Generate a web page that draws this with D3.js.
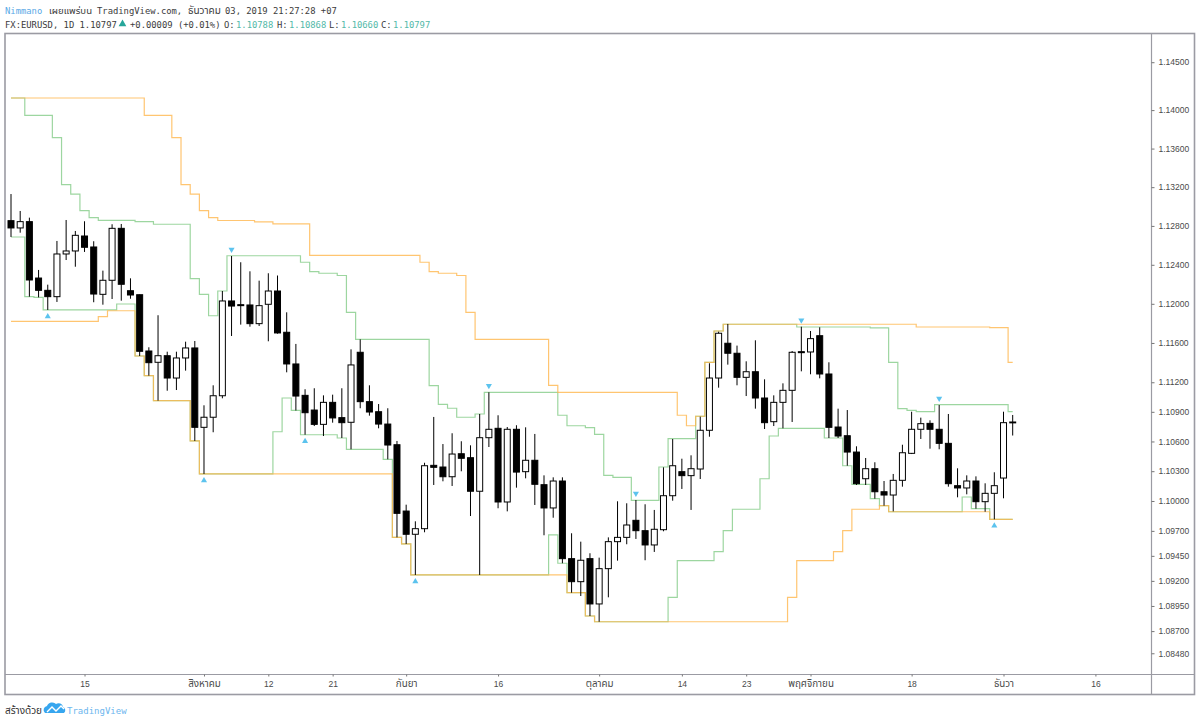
<!DOCTYPE html>
<html>
<head>
<meta charset="utf-8">
<script src="https://cdn.jsdelivr.net/npm/d3@7"></script>
<style>
  body { margin: 0; background: #fff; }
  svg { display: block; }
  .mono { font-family: "DejaVu Sans Mono", "Liberation Mono", monospace; font-size: 8.85px; fill: #3c3c3c; }
  .axis text { font-family: "Liberation Sans", sans-serif; font-size: 8.5px; fill: #4a4a4a; }
  .axis line { stroke: #777; }
</style>
</head>
<body>
<div id="chart"></div>
<script>
const opens = [
  1.12854, 1.12779, 1.12844, 1.12264, 1.12138, 1.12073, 1.12511, 1.12542, 1.12696, 1.12583,
  1.12097, 1.12241, 1.12775, 1.12134, 1.12093, 1.11518, 1.11403, 1.11470, 1.11243, 1.11447,
  1.11549, 1.10743, 1.10845, 1.11063, 1.12029, 1.11991, 1.11988, 1.11797, 1.11995, 1.12131,
  1.11709, 1.11386, 1.11067, 1.10918, 1.10773, 1.10996, 1.10841, 1.10794, 1.11505, 1.11003,
  1.10901, 1.10776, 1.10567, 1.09899, 1.09666, 1.09722, 1.10359, 1.10342, 1.10244, 1.10476,
  1.10436, 1.10098, 1.10638, 1.10733, 1.09990, 1.10723, 1.10295, 1.10410, 1.10164, 1.09930,
  1.10201, 1.09422, 1.09192, 1.09422, 1.08970, 1.09322, 1.09592, 1.09635, 1.09806, 1.09702,
  1.09559, 1.09712, 1.10053, 1.10295, 1.10255, 1.10322, 1.10713, 1.11243, 1.11597, 1.11495,
  1.11250, 1.11307, 1.11040, 1.10800, 1.10996, 1.11118, 1.11511, 1.11508, 1.11674, 1.11284,
  1.10746, 1.10658, 1.10493, 1.10224, 1.10325, 1.10093, 1.10060, 1.10208, 1.10480, 1.10723,
  1.10783, 1.10723, 1.10581, 1.10154, 1.10131, 1.10201, 1.09993, 1.10077, 1.10231, 1.10788
];
const highs = [
  1.13129, 1.12954, 1.12885, 1.12347, 1.12196, 1.12645, 1.12861, 1.12748, 1.12848, 1.12642,
  1.12340, 1.12817, 1.12820, 1.12261, 1.12095, 1.11556, 1.11883, 1.11511, 1.11511, 1.11613,
  1.11620, 1.10966, 1.11169, 1.12131, 1.12490, 1.12426, 1.12333, 1.12237, 1.12313, 1.12290,
  1.11913, 1.11590, 1.11129, 1.11139, 1.11067, 1.11074, 1.11139, 1.11535, 1.11637, 1.11169,
  1.10979, 1.10936, 1.10605, 1.09963, 1.09796, 1.10385, 1.10848, 1.10574, 1.10683, 1.10602,
  1.10561, 1.10878, 1.11098, 1.10865, 1.10746, 1.10764, 1.10743, 1.10676, 1.10258, 1.10238,
  1.10238, 1.09676, 1.09592, 1.09476, 1.09432, 1.09635, 1.09997, 1.09977, 1.10010, 1.09967,
  1.09910, 1.10339, 1.10625, 1.10426, 1.10460, 1.10851, 1.11393, 1.11715, 1.11794, 1.11573,
  1.11413, 1.11627, 1.11230, 1.11067, 1.11189, 1.11518, 1.11766, 1.11722, 1.11760, 1.11403,
  1.10932, 1.10918, 1.10551, 1.10433, 1.10390, 1.10201, 1.10272, 1.10567, 1.10901, 1.10841,
  1.10814, 1.10969, 1.10878, 1.10329, 1.10258, 1.10248, 1.10178, 1.10289, 1.10901, 1.10868
];
const lows = [
  1.12686, 1.12730, 1.12073, 1.12066, 1.11937, 1.12019, 1.12449, 1.12380, 1.12532, 1.12016,
  1.11991, 1.12049, 1.12032, 1.12052, 1.11467, 1.11267, 1.11013, 1.11114, 1.11121, 1.11318,
  1.10605, 1.10272, 1.10693, 1.11037, 1.11671, 1.11787, 1.11766, 1.11773, 1.11617, 1.11695,
  1.11301, 1.10913, 1.10668, 1.10756, 1.10655, 1.10790, 1.10635, 1.10521, 1.10936, 1.10861,
  1.10733, 1.10420, 1.09635, 1.09569, 1.09259, 1.09686, 1.10161, 1.10198, 1.10151, 1.10299,
  1.09849, 1.09259, 1.10544, 1.09927, 1.09896, 1.10134, 1.10228, 1.09960, 1.09656, 1.09832,
  1.09376, 1.09082, 1.09049, 1.08850, 1.08793, 1.09036, 1.09402, 1.09566, 1.09619, 1.09406,
  1.09489, 1.09696, 1.10003, 1.10121, 1.09910, 1.10221, 1.10648, 1.11145, 1.11379, 1.11169,
  1.11060, 1.10932, 1.10726, 1.10756, 1.10733, 1.10797, 1.11311, 1.11281, 1.11240, 1.10635,
  1.10635, 1.10355, 1.10161, 1.10161, 1.10023, 1.09953, 1.09896, 1.10144, 1.10473, 1.10625,
  1.10527, 1.10521, 1.10144, 1.10037, 1.10067, 1.09923, 1.09892, 1.09816, 1.10027, 1.10660
];
const closes = [
  1.12779, 1.12844, 1.12244, 1.12138, 1.12073, 1.12511, 1.12542, 1.12703, 1.12580, 1.12100,
  1.12241, 1.12775, 1.12200, 1.12090, 1.11515, 1.11399, 1.11470, 1.11243, 1.11447, 1.11549,
  1.10743, 1.10845, 1.11063, 1.12029, 1.11977, 1.11981, 1.11797, 1.11981, 1.12131, 1.11702,
  1.11386, 1.11060, 1.10891, 1.10773, 1.10996, 1.10838, 1.10790, 1.11376, 1.11003, 1.10898,
  1.10776, 1.10564, 1.09876, 1.09666, 1.09722, 1.10355, 1.10339, 1.10244, 1.10473, 1.10430,
  1.10098, 1.10638, 1.10723, 1.09990, 1.10723, 1.10291, 1.10410, 1.10168, 1.09930, 1.10201,
  1.09422, 1.09192, 1.09406, 1.08970, 1.09322, 1.09592, 1.09635, 1.09759, 1.09702, 1.09559,
  1.09716, 1.10053, 1.10355, 1.10255, 1.10325, 1.10713, 1.11243, 1.11699, 1.11495, 1.11250,
  1.11307, 1.11040, 1.10790, 1.10996, 1.11118, 1.11505, 1.11501, 1.11644, 1.11284, 1.10743,
  1.10655, 1.10493, 1.10174, 1.10325, 1.10093, 1.10060, 1.10208, 1.10486, 1.10723, 1.10780,
  1.10723, 1.10581, 1.10174, 1.10131, 1.10201, 1.09993, 1.10077, 1.10154, 1.10790, 1.10797
];

// channel lines: the bar where each level starts, then the level itself
const orangeUpperStart = [0, 15, 18, 19, 20, 21, 22, 23, 27, 29, 33, 45, 46, 47, 49, 50, 51, 59, 60, 73, 74, 75, 76, 77, 78, 99, 107, 109];
const orangeUpperLevel = [1.14126, 1.13945, 1.13713, 1.13226, 1.13129, 1.12957, 1.12885, 1.12856, 1.12841, 1.12820, 1.12497, 1.12426, 1.12329, 1.12313, 1.12290, 1.11913, 1.11637, 1.11169, 1.11098, 1.10865, 1.10759, 1.10855, 1.11403, 1.11722, 1.11791, 1.11763, 1.11756, 1.11403];
const orangeLowerStart = [0, 10, 11, 14, 15, 16, 20, 21, 42, 43, 44, 61, 63, 64, 85, 86, 90, 91, 92, 95, 96, 107];
const orangeLowerLevel = [1.11820, 1.11868, 1.11929, 1.11467, 1.11267, 1.11013, 1.10605, 1.10272, 1.09635, 1.09569, 1.09259, 1.09082, 1.08850, 1.08793, 1.09036, 1.09402, 1.09492, 1.09702, 1.09917, 1.09953, 1.09892, 1.09816];
const greenUpperStart = [0, 2, 5, 6, 7, 8, 9, 10, 14, 16, 20, 21, 22, 23, 24, 32, 33, 34, 36, 37, 38, 46, 47, 48, 49, 51, 52, 60, 61, 63, 64, 65, 66, 68, 71, 72, 75, 76, 77, 78, 86, 94, 96, 97, 98, 99, 101, 109];
const greenUpperLevel = [1.14126, 1.13945, 1.13713, 1.13226, 1.13129, 1.12957, 1.12885, 1.12858, 1.12844, 1.12817, 1.12257, 1.12097, 1.11878, 1.12131, 1.12493, 1.12426, 1.12329, 1.12313, 1.12290, 1.11913, 1.11637, 1.11165, 1.10976, 1.10936, 1.10845, 1.10878, 1.11098, 1.10865, 1.10759, 1.10739, 1.10672, 1.10258, 1.10238, 1.10007, 1.10342, 1.10628, 1.10855, 1.11403, 1.11722, 1.11791, 1.11763, 1.11753, 1.11403, 1.10932, 1.10915, 1.10901, 1.10972, 1.10901];
const greenLowerStart = [0, 2, 3, 4, 12, 14, 15, 16, 20, 21, 29, 30, 31, 32, 36, 37, 41, 42, 43, 44, 59, 60, 61, 63, 64, 72, 73, 77, 78, 79, 82, 83, 84, 89, 91, 92, 94, 95, 96, 104, 105, 107];
const greenLowerLevel = [1.12686, 1.12073, 1.12066, 1.11937, 1.11998, 1.11467, 1.11267, 1.11013, 1.10605, 1.10272, 1.10698, 1.11040, 1.10915, 1.10668, 1.10635, 1.10521, 1.10420, 1.09635, 1.09569, 1.09259, 1.09659, 1.09376, 1.09082, 1.08850, 1.08793, 1.09036, 1.09402, 1.09492, 1.09702, 1.09917, 1.10224, 1.10655, 1.10733, 1.10635, 1.10355, 1.10168, 1.10023, 1.09953, 1.09892, 1.10040, 1.09923, 1.09816];

const pivotLowBars = [4, 21, 32, 44, 107];
const pivotHighBars = [24, 52, 68, 86, 101];

const priceTicks = [1.145, 1.14, 1.136, 1.132, 1.128, 1.124, 1.12, 1.116, 1.112, 1.109, 1.106, 1.103, 1.1, 1.097, 1.0945, 1.092, 1.0895, 1.087, 1.0848];
const dateTickBars = [8, 21, 28, 35, 43, 53, 64, 73, 80, 87, 98, 108, 118];
const dateTickLabels = ["15", "สิงหาคม", "12", "21", "กันยา", "16", "ตุลาคม", "14", "23", "พฤศจิกายน", "18", "ธันวา", "16"];

const width = 1200;
const height = 723;
const frame = { left: 5, right: 1194.5, top: 33.5, bottom: 694.5, plotBottom: 674.5, axisX: 1151.5 };

const thaiFont = '"Noto Sans Thai", "Noto Sans", "DejaVu Sans", sans-serif';

const svg = d3.select("#chart")
  .append("svg")
  .attr("width", width)
  .attr("height", height);

const x = d3.scaleLinear().domain([0, 109]).range([11, 1012.7]);
const y = d3.scaleLog().domain([1.087, 1.14]).range([631.1, 110.1]);

// frame
svg.append("rect")
  .attr("x", frame.left)
  .attr("y", frame.top)
  .attr("width", frame.right - frame.left)
  .attr("height", frame.bottom - frame.top)
  .attr("fill", "none")
  .attr("stroke", "#9b9ba3")
  .attr("stroke-width", 1.6);

svg.append("line")
  .attr("x1", frame.left).attr("x2", frame.right)
  .attr("y1", frame.plotBottom).attr("y2", frame.plotBottom)
  .attr("stroke", "#9b9ba3").attr("stroke-width", 1.2);

svg.append("line")
  .attr("x1", frame.axisX).attr("x2", frame.axisX)
  .attr("y1", frame.top).attr("y2", frame.bottom)
  .attr("stroke", "#9b9ba3").attr("stroke-width", 1.2);

// axes
const priceAxis = svg.append("g")
  .attr("class", "axis")
  .attr("transform", `translate(${frame.axisX},0)`)
  .call(d3.axisRight(y).tickValues(priceTicks).tickSize(3).tickPadding(4).tickFormat(d3.format(".5f")));
priceAxis.select(".domain").remove();

const dateAxis = svg.append("g")
  .attr("class", "axis")
  .attr("transform", `translate(0,${frame.plotBottom})`)
  .call(d3.axisBottom(x).tickValues(dateTickBars).tickSize(2).tickPadding(4)
    .tickFormat((d, i) => dateTickLabels[i]));
dateAxis.select(".domain").remove();
dateAxis.selectAll("text")
  .style("font-family", `"Liberation Sans", ${thaiFont}`)
  .style("font-size", (d, i) => isNaN(dateTickLabels[i]) ? "9.8px" : "8.5px");

// channel lines
const stepLine = d3.line()
  .x(d => x(d.bar))
  .y(d => y(d.level))
  .curve(d3.curveStepAfter);

function drawChannel(starts, levels, color, opacity) {
  const points = starts.map((s, i) => ({ bar: s === 0 ? 0 : s - 0.5, level: levels[i] }));
  points.push({ bar: 109, level: levels[levels.length - 1] });
  svg.append("path")
    .attr("d", stepLine(points))
    .attr("fill", "none")
    .attr("stroke", color)
    .attr("stroke-opacity", opacity)
    .attr("stroke-width", 1.2);
}

drawChannel(greenUpperStart, greenUpperLevel, "#9dd6a0", 1);
drawChannel(greenLowerStart, greenLowerLevel, "#9dd6a0", 1);
drawChannel(orangeUpperStart, orangeUpperLevel, "#ffb74d", 0.8);
drawChannel(orangeLowerStart, orangeLowerLevel, "#ffb74d", 0.8);

// candles
const bars = d3.range(opens.length);
const candles = svg.append("g");

candles.selectAll("line")
  .data(bars)
  .join("line")
  .attr("x1", i => x(i))
  .attr("x2", i => x(i))
  .attr("y1", i => y(highs[i]))
  .attr("y2", i => y(lows[i]))
  .attr("stroke", "#000")
  .attr("stroke-width", 1);

candles.selectAll("rect")
  .data(bars)
  .join("rect")
  .attr("x", i => x(i) - 3)
  .attr("width", 6)
  .attr("y", i => y(Math.max(opens[i], closes[i])))
  .attr("height", i => Math.abs(y(opens[i]) - y(closes[i])))
  .attr("fill", i => closes[i] < opens[i] ? "#000" : "#fff")
  .attr("stroke", "#000")
  .attr("stroke-width", 1);

// pivot markers
const triangle = d3.symbol().type(d3.symbolTriangle).size(16);

svg.selectAll(".pivot-low")
  .data(pivotLowBars)
  .join("path")
  .attr("class", "pivot-low")
  .attr("d", triangle)
  .attr("transform", i => `translate(${x(i)},${y(lows[i]) + 6.5})`)
  .attr("fill", "#5cc3ee");

svg.selectAll(".pivot-high")
  .data(pivotHighBars)
  .join("path")
  .attr("class", "pivot-high")
  .attr("d", triangle)
  .attr("transform", i => `translate(${x(i)},${y(highs[i]) - 6.5}) rotate(180)`)
  .attr("fill", "#5cc3ee");

// header
const line1 = svg.append("text").attr("class", "mono").attr("x", 5).attr("y", 14);
line1.append("tspan").style("fill", "#5aa9e6").text("Nimmano");
line1.append("tspan").attr("x", 49).style("font-family", thaiFont).style("font-size", "9.6px").text("เผยแพร่บน");
line1.append("tspan").attr("x", 97).text("TradingView.com,");
line1.append("tspan").attr("x", 188).style("font-family", thaiFont).style("font-size", "10px").text("ธันวาคม");
line1.append("tspan").attr("x", 225).text("03, 2019 21:27:28 +07");

const line2 = svg.append("text").attr("class", "mono").attr("x", 5).attr("y", 28);
line2.append("tspan").text("FX:EURUSD, 1D 1.10797");
line2.append("tspan").attr("x", 130).text("+0.00009 (+0.01%)");

const ohlcNames = ["O:", "H:", "L:", "C:"];
const ohlcValues = ["1.10788", "1.10868", "1.10660", "1.10797"];
const ohlcX = [224, 277, 329, 381];
ohlcNames.forEach((name, i) => {
  line2.append("tspan").attr("x", ohlcX[i]).text(name);
  line2.append("tspan").attr("x", ohlcX[i] + 12).style("fill", "#53b9a8").text(ohlcValues[i]);
});

svg.append("path")
  .attr("d", d3.symbol().type(d3.symbolTriangle).size(26))
  .attr("transform", "translate(122.5,24)")
  .attr("fill", "#26a69a");

// footer
svg.append("text")
  .attr("x", 5)
  .attr("y", 714)
  .style("font-family", thaiFont)
  .style("font-size", "10px")
  .style("fill", "#333")
  .text("สร้างด้วย");

svg.append("path")
  .attr("d", "M45 713 a4 4 0 0 1 2 -7 a5.5 5.5 0 0 1 9 -2 a4.5 4.5 0 0 1 7 3 a3.5 3.5 0 0 1 1 6 z")
  .attr("fill", "#37a6ef");
svg.append("path")
  .attr("d", "M47 712 L52 707 L56 711 L61 706 L64 709")
  .attr("fill", "none")
  .attr("stroke", "#fff")
  .attr("stroke-width", 1.4);

svg.append("text")
  .attr("class", "mono")
  .attr("x", 67)
  .attr("y", 714)
  .style("fill", "#6db6ee")
  .style("font-size", "9px")
  .text("TradingView");
</script>
</body>
</html>
